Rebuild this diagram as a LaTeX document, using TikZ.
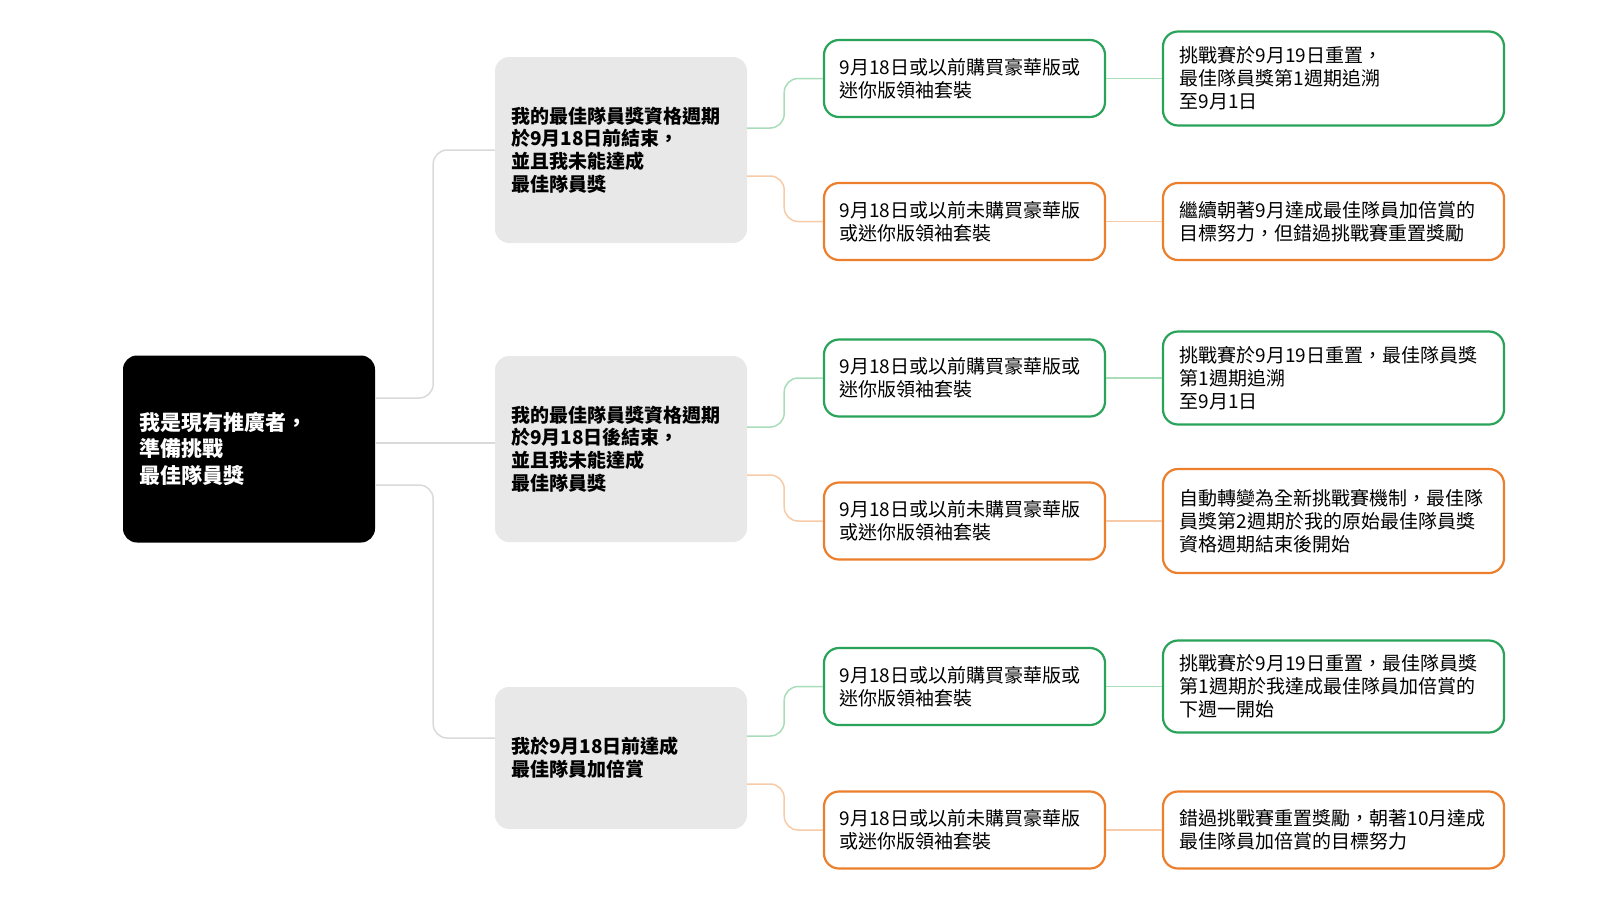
\documentclass[tikz,border=0pt]{standalone}
\usepackage{fontspec}
\setmainfont{Noto Sans CJK TC}
\usepackage{tikz}
\definecolor{boxgray}{HTML}{E8E8E8}
\definecolor{linegray}{HTML}{DADADA}
\definecolor{okgreen}{HTML}{2AA35A}
\definecolor{okorange}{HTML}{EC7F2C}
\definecolor{lightgreen}{HTML}{A9DDBA}
\definecolor{lightorange}{HTML}{F7CBA8}
\tikzstyle{root}=[rectangle, rounded corners=14pt, fill=black, text=white, minimum width=252pt, minimum height=187pt, inner sep=0pt, text width=220pt, align=left, font=\fontsize{21}{26.5}\selectfont\bfseries]
\tikzstyle{case}=[rectangle, rounded corners=14pt, fill=boxgray, minimum width=252pt, inner sep=0pt, text width=220pt, align=left, font=\fontsize{19}{22.8}\selectfont\bfseries]
\tikzstyle{buy}=[rectangle, rounded corners=15pt, draw=okgreen, line width=2.2pt, fill=white, minimum width=281pt, minimum height=77pt, inner sep=0pt, text width=250pt, align=left, font=\fontsize{19}{22.8}\selectfont]
\tikzstyle{nobuy}=[buy, draw=okorange]
\tikzstyle{res}=[buy, minimum width=341pt, text width=308pt]
\tikzstyle{nores}=[res, draw=okorange]
\tikzstyle{link}=[draw=linegray, line width=1.5pt, rounded corners=14pt]
\tikzstyle{glink}=[link, draw=lightgreen]
\tikzstyle{olink}=[link, draw=lightorange]

\begin{document}
\begin{tikzpicture}[x=1pt, y=-1pt]
                \useasboundingbox (0, 0) rectangle (1600, 900);
                \node[root] (0)  at (249, 449) {我是現有推廣者，\\準備挑戰\\最佳隊員獎};
                \node[case, minimum height=186pt] (1) at (621, 150) {我的最佳隊員獎資格週期\\於9月18日前結束，\\並且我未能達成\\最佳隊員獎};
                \node[case, minimum height=186pt] (2) at (621, 449) {我的最佳隊員獎資格週期\\於9月18日後結束，\\並且我未能達成\\最佳隊員獎};
                \node[case, minimum height=142pt] (3) at (621, 758) {我於9月18日前達成\\最佳隊員加倍賞};
                \node[buy]   (11) at (964.5, 78.5)  {9月18日或以前購買豪華版或\\迷你版領袖套裝};
                \node[nobuy] (12) at (964.5, 221.5) {9月18日或以前未購買豪華版\\或迷你版領袖套裝};
                \node[buy]   (21) at (964.5, 378)   {9月18日或以前購買豪華版或\\迷你版領袖套裝};
                \node[nobuy] (22) at (964.5, 521)   {9月18日或以前未購買豪華版\\或迷你版領袖套裝};
                \node[buy]   (31) at (964.5, 686.5) {9月18日或以前購買豪華版或\\迷你版領袖套裝};
                \node[nobuy] (32) at (964.5, 830)   {9月18日或以前未購買豪華版\\或迷你版領袖套裝};
                \node[res, minimum height=94pt]    (111) at (1333.5, 78.5)  {挑戰賽於9月19日重置，\\最佳隊員獎第1週期追溯\\至9月1日};
                \node[nores]                       (121) at (1333.5, 221.5) {繼續朝著9月達成最佳隊員加倍賞的\\目標努力，但錯過挑戰賽重置獎勵};
                \node[res, minimum height=93pt]    (211) at (1333.5, 378)   {挑戰賽於9月19日重置，最佳隊員獎\\第1週期追溯\\至9月1日};
                \node[nores, minimum height=104pt] (221) at (1333.5, 521)   {自動轉變為全新挑戰賽機制，最佳隊\\員獎第2週期於我的原始最佳隊員獎\\資格週期結束後開始};
                \node[res, minimum height=92pt]    (311) at (1333.5, 686.5) {挑戰賽於9月19日重置，最佳隊員獎\\第1週期於我達成最佳隊員加倍賞的\\下週一開始};
                \node[nores]                       (321) at (1333.5, 830)   {錯過挑戰賽重置獎勵，朝著10月達成\\最佳隊員加倍賞的目標努力};
                \draw[link]  ([yshift=51pt]0.east) -- ++(58, 0) |- (1.west);
                \draw[link]  ([yshift=6pt]0.east) -- ([yshift=6pt]2.west);
                \draw[link]  ([yshift=-36pt]0.east) -- ++(58, 0) |- ([yshift=20pt]3.west);
                \draw[glink] ([yshift=22pt]1.east) -- ++(37, 0) |- (11.west);
                \draw[olink] ([yshift=-26pt]1.east) -- ++(37, 0) |- (12.west);
                \draw[glink] ([yshift=22pt]2.east) -- ++(37, 0) |- (21.west);
                \draw[olink] ([yshift=-26pt]2.east) -- ++(37, 0) |- (22.west);
                \draw[glink] ([yshift=22pt]3.east) -- ++(37, 0) |- (31.west);
                \draw[olink] ([yshift=-26pt]3.east) -- ++(37, 0) |- (32.west);
                \draw[glink] (11) -- (111);
                \draw[olink] (12) -- (121);
                \draw[glink] (21) -- (211);
                \draw[olink] (22) -- (221);
                \draw[glink] (31) -- (311);
                \draw[olink] (32) -- (321);
            \end{tikzpicture}
\end{document}
